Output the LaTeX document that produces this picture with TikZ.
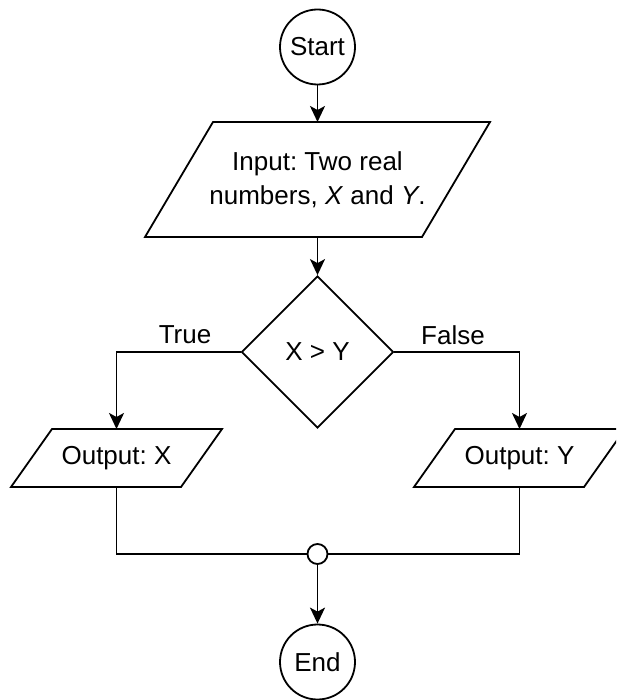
\documentclass[tikz,border=0pt]{standalone}
\usepackage{fontspec}
\setmainfont{Liberation Sans}
\usetikzlibrary{shapes.geometric,arrows.meta}
\frenchspacing
\begin{document}
\begin{tikzpicture}[x=1pt,y=-1pt,
  lw/.style={line width=1.8pt},
  arr/.style={lw, -{Stealth[length=16pt,width=15pt,inset=4pt]}},
  txt/.style={font=\fontsize{26}{34}\selectfont},
  term/.style={circle, draw, lw, minimum size=75pt, inner sep=0pt, txt},
  iobox/.style={rectangle, inner sep=0pt, outer sep=0pt, align=center, txt},
  decision/.style={diamond, draw, lw, minimum width=152pt, minimum height=152pt, inner sep=0pt, txt},
  junction/.style={circle, draw, lw, fill=white, minimum size=20pt, inner sep=0pt},
  lbl/.style={txt, inner sep=0pt}
]
\path[use as bounding box, fill=white] (0,0) rectangle (616,700);
\begin{scope}
\clip (0,0) rectangle (616,700);

\node[term] (start) at (317.5,47) {Start};

\node[iobox, minimum width=277pt, minimum height=115pt] (in) at (317.5,179.5)
  {Input: Two real\\numbers, \textit{X} and \textit{Y}.};
\draw[lw, line join=miter] ([xshift=34pt]in.north west) -- ([xshift=34pt]in.north east)
  -- ([xshift=-34pt]in.south east) -- ([xshift=-34pt]in.south west) -- cycle;

\node[decision] (dia) at (317.5,352) {X > Y};

\node[iobox, minimum width=170pt, minimum height=58pt] (outx) at (116.5,458) {Output: X};
\draw[lw] ([xshift=20.5pt]outx.north west) -- ([xshift=20.5pt]outx.north east)
  -- ([xshift=-20.5pt]outx.south east) -- ([xshift=-20.5pt]outx.south west) -- cycle;

\node[iobox, minimum width=170pt, minimum height=58pt] (outy) at (519.5,458) {Output: Y};
\draw[lw] ([xshift=20.5pt]outy.north west) -- ([xshift=20.5pt]outy.north east)
  -- ([xshift=-20.5pt]outy.south east) -- ([xshift=-20.5pt]outy.south west) -- cycle;

\node[lbl] (ltrue) at (185,335) {True};
\node[lbl] (lfalse) at (453,335) {False};

\node[term] (end) at (317.5,662) {End};

\draw[arr] (start) -- (in);
\draw[arr] (in) -- (dia);
\draw[arr] (dia.west) -| (outx.north);
\draw[arr] (dia.east) -| (outy.north);
\draw[lw] (outx.south) |- (317.5,554) coordinate (jpt);
\draw[lw] (outy.south) |- (jpt);
\node[junction] (junc) at (jpt) {};
\draw[arr] (junc) -- (end);
\end{scope}
\end{tikzpicture}
\end{document}
